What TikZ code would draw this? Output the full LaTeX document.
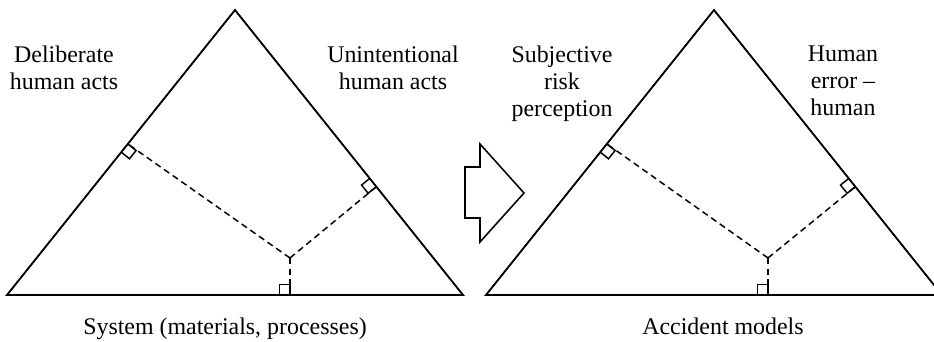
\documentclass[tikz,border=0pt]{standalone}
\usepackage{fontspec}
\setmainfont{Liberation Serif}
\usepackage{tikz}
\usetikzlibrary{calc}

\begin{document}
\begin{tikzpicture}[x=0.025cm, y=-0.025cm,
        tri/.style={line width=1.3pt, line join=miter},
        dropline/.style={line width=1.05pt, dash pattern=on 4.5pt off 3pt},
        rmark/.style={line width=1.05pt},
        lbl/.style={font=\fontsize{17}{19}\selectfont, align=center, inner sep=0pt}
    ]
        \useasboundingbox (0,0) rectangle (934,342);
        \clip (0,0) rectangle (934,342);

        % left triangle
        \coordinate (L-a) at (7,295);
        \coordinate (L-top) at (235,10);
        \coordinate (L-c) at (463,295);
        \coordinate (L-p) at (290,258);
        \coordinate (L-fl) at ($(L-a)!0.53!(L-top)$);
        \coordinate (L-fr) at ($(L-c)!0.38!(L-top)$);
        \coordinate (L-fb) at (L-p |- L-a);

        % right triangle
        \coordinate (R-a) at (486,295);
        \coordinate (R-top) at (714,10);
        \coordinate (R-c) at (942,295);
        \coordinate (R-p) at (768,258);
        \coordinate (R-fl) at ($(R-a)!0.53!(R-top)$);
        \coordinate (R-fr) at ($(R-c)!0.38!(R-top)$);
        \coordinate (R-fb) at (R-p |- R-a);

        \draw[tri] (L-a) -- (L-top) -- (L-c) -- cycle;
        \draw[tri] (R-a) -- (R-top) -- (R-c) -- cycle;

        \foreach \s in {L, R} {
            \draw[dropline] (\s-p) -- (\s-fl);
            \draw[dropline] (\s-p) -- (\s-fr);
            \draw[dropline] (\s-p) -- (\s-fb);
        }

        % right angle marks
        \foreach \f/\a/\r/\q in {L-fl/L-a/90/-90, L-fr/L-top/90/-90, L-fb/L-a/-90/90,
                                 R-fl/R-a/90/-90, R-fr/R-top/90/-90, R-fb/R-a/-90/90}
            \draw[rmark] ($(\f)!7.5pt!(\a)$) -- ($(\f)!7.5pt!(\a)!7.5pt!\q:(\f)$)
                -- ($(\f)!7.5pt!\r:(\a)$) -- (\f);

        % block arrow between the two
        \draw[line width=1.1pt, line join=miter] (465,167) -- (480,167) -- (480,144) -- (524,193)
            -- (480,242) -- (480,218) -- (465,218) -- cycle;

        \node[lbl, anchor=north] (deliberate) at (64,46) {Deliberate\\human acts};
        \node[lbl, anchor=north] (unintentional) at (393,46) {Unintentional\\human acts};
        \node[lbl, anchor=base] (system) at (225,334) {System (materials, processes)};
        \node[lbl, anchor=north] (subjective) at (562,46) {Subjective\\risk\\perception};
        \node[lbl, anchor=north] (humanerror) at (843,46) {Human\\error --\\human};
        \node[lbl, anchor=base] (accident) at (723,334) {Accident models};
    \end{tikzpicture}
\end{document}
